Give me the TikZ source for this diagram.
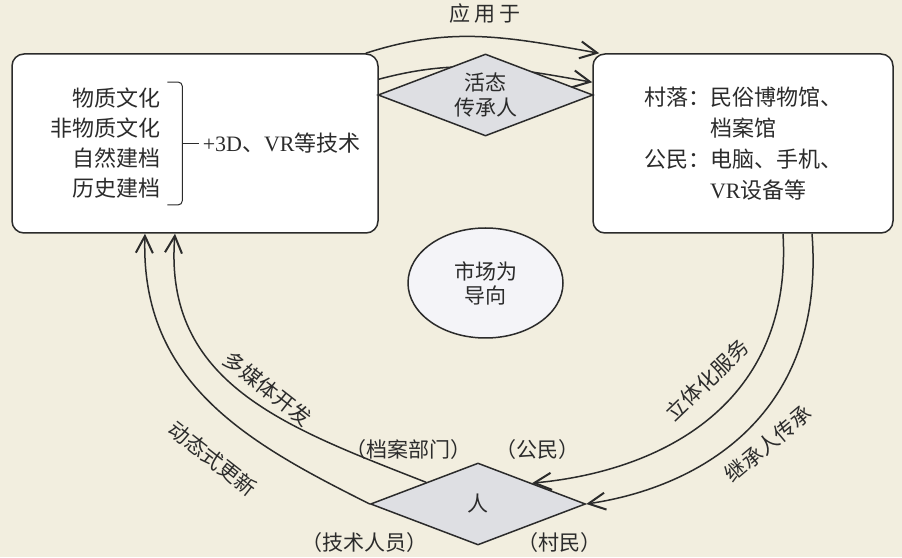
\documentclass[tikz,border=0pt]{standalone}
\usepackage{fontspec}
\setmainfont{Liberation Serif}
\newfontfamily\cjk{Noto Sans CJK SC}
\usetikzlibrary{arrows.meta,calc,shapes.geometric,positioning}
\definecolor{BgClr}{RGB}{242,238,223}
\definecolor{LineClr}{RGB}{43,43,43}
\definecolor{DiaClr}{RGB}{222,223,227}
\definecolor{EllClr}{RGB}{244,244,248}
\newcommand\lat[1]{{\rmfamily #1}}

\begin{document}
\begin{tikzpicture}[x=1pt,y=1pt,
  every node/.style={text=LineClr,font=\cjk\fontsize{22}{30}\selectfont},
  box/.style={draw=LineClr,line width=1.5pt,fill=white,rounded corners=12pt,
    minimum width=366pt,minimum height=179pt},
  dia/.style={diamond,draw=LineClr,line width=1.5pt,fill=DiaClr,inner sep=0pt,
    aspect=2.6,minimum width=215pt,minimum height=82pt,align=center,
    font=\cjk\fontsize{21}{25}\selectfont},
  link/.style={draw=LineClr,line width=1.5pt,
    -{Straight Barb[length=17pt,width=17pt,line width=2pt]}},
  lbl/.style={font=\cjk\fontsize{21}{26}\selectfont},
]
\fill[BgClr] (0,0) rectangle (902,557);

\node[box] (src) at (195,413.5) {};
\node[box,minimum width=300pt,align=left,font=\cjk\fontsize{22}{31}\selectfont] (dst) at (743,413.5)
  {村落：民俗博物馆、\\\phantom{村落：}档案馆\\公民：电脑、手机、\\\phantom{公民：}\lat{VR}设备等};

\draw[link] ([xshift=-13pt]src.north east) to[out=18,in=170] ([xshift=7pt]dst.north west);
\draw[link] ([yshift=-26pt]src.north east) to[out=15,in=170] ([yshift=-29pt]dst.north west);

\node[dia] (heir) at (485.5,462) {活态\\传承人};
\node[ellipse,draw=LineClr,line width=1.5pt,fill=EllClr,inner sep=0pt,
  minimum width=155pt,minimum height=110pt,align=center,
  font=\cjk\fontsize{21}{24}\selectfont] (mkt) at (485.5,274) {市场为\\导向};
\node[dia] (ppl) at (478,53) {人};

\node[align=right,anchor=east,inner ysep=6pt] (types) at ([xshift=153pt]src.west)
  {物质文化\\非物质文化\\自然建档\\历史建档};
\node[right=35pt of types] (tech) {\lat{+3D}、\lat{VR}等技术};
\draw[LineClr,line width=1pt,rounded corners=4pt] ([xshift=3pt]types.north east)
  -| ([xshift=18pt]types.east) |- ([xshift=3pt]types.south east);
\draw[LineClr,line width=1pt] ([xshift=18pt]types.east) -- (tech.west);

\draw[link] (ppl.west) .. controls +(-120,60) and +(-5,-150) .. ([xshift=-50pt]src.south);
\draw[link] ($(ppl.west)!.52!(ppl.north)$) .. controls +(-140,55) and +(-12,-150) .. ([xshift=-20pt]src.south);
\draw[link] ([xshift=40pt]dst.south) .. controls +(10,-170) and +(130,12) .. ($(ppl.north)!.5!(ppl.east)$);
\draw[link] ([xshift=69pt]dst.south) .. controls +(14,-180) and +(115,17) .. (ppl.east);

\node[lbl] (use) at (485,543) {应\hspace{4pt}用\hspace{4pt}于};
\node[lbl,rotate=-38] (media) at (268,168) {多媒体开发};
\node[lbl,rotate=-38] (update) at (213,98) {动态式更新};
\node[lbl,rotate=44] (serve) at (707,177) {立体化服务};
\node[lbl,rotate=40] (pass) at (768,113) {继承人传承};

\node[lbl] (arch) at (408,107) {（档案部门）};
\node[lbl] (citz) at (537,107) {（公民）};
\node[lbl] (tech2) at (364,14) {（技术人员）};
\node[lbl] (vill) at (559,14) {（村民）};
\end{tikzpicture}
\end{document}
